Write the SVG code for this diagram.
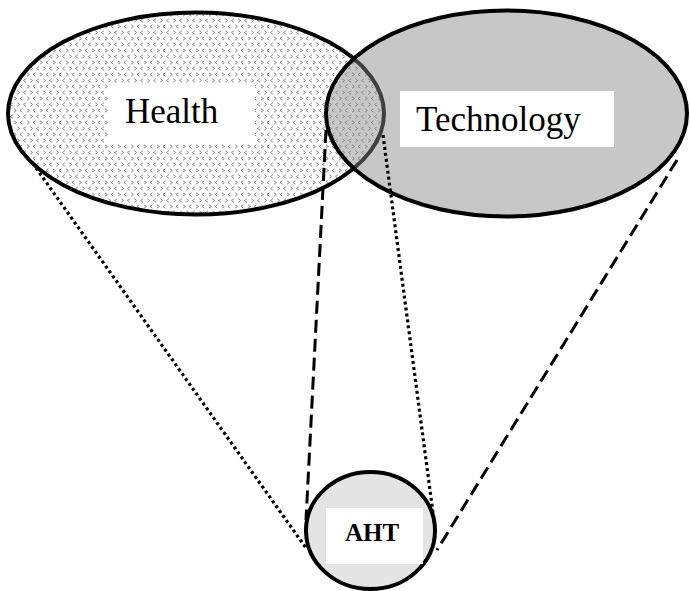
<svg xmlns="http://www.w3.org/2000/svg" width="690" height="591" viewBox="0 0 690 591">
<style>
.lbl{font-family:"Liberation Serif","Times New Roman",serif;fill:#000}
.outline{stroke:#000;stroke-width:4}
.dashed{fill:none;stroke:#000;stroke-width:3;stroke-dasharray:13 6}
.dotted{fill:none;stroke:#000;stroke-width:3.2;stroke-dasharray:3 3}
</style>
<defs>
<pattern id="dots" patternUnits="userSpaceOnUse" width="13" height="12">
<rect width="13" height="12" fill="#fff"/>
<g fill="none" stroke="#8c8c8c" stroke-width="1">
<path d="M1,0.8 L3.4,2.5 L1,4.2"/>
<path d="M9.4,0.8 L7,2.5 L9.4,4.2"/>
<path d="M4.3,6.8 L6.7,8.5 L4.3,10.2"/>
<path d="M12.9,6.8 L10.5,8.5 L12.9,10.2"/>
</g>
</pattern>
</defs>
<g id="health">
<ellipse cx="196" cy="113.5" rx="188" ry="101" fill="url(#dots)" class="outline"/>
<rect x="108" y="83" width="147" height="60" fill="#fff"/>
<text class="lbl" x="125" y="123" font-size="35">Health</text>
</g>
<g id="technology">
<ellipse cx="506.5" cy="113.5" rx="180.5" ry="103" fill="#898989" fill-opacity="0.47" class="outline"/>
<rect x="400" y="91" width="214" height="56" fill="#fff"/>
<text class="lbl" x="416" y="131" font-size="35">Technology</text>
</g>
<g id="aht">
<ellipse cx="370.5" cy="530.5" rx="64.5" ry="58.5" fill="#e4e4e4" class="outline"/>
<rect x="326" y="508" width="97" height="56" fill="#fff"/>
<text class="lbl" x="372" y="541" font-size="25" font-weight="bold" text-anchor="middle">AHT</text>
</g>
<g id="connectors">
<line class="dotted" x1="36" y1="168" x2="306" y2="548"/>
<line class="dashed" x1="326" y1="130" x2="306" y2="520"/>
<line class="dotted" x1="383" y1="135" x2="435" y2="528"/>
<line class="dashed" x1="677" y1="160" x2="437" y2="550"/>
</g>
</svg>
